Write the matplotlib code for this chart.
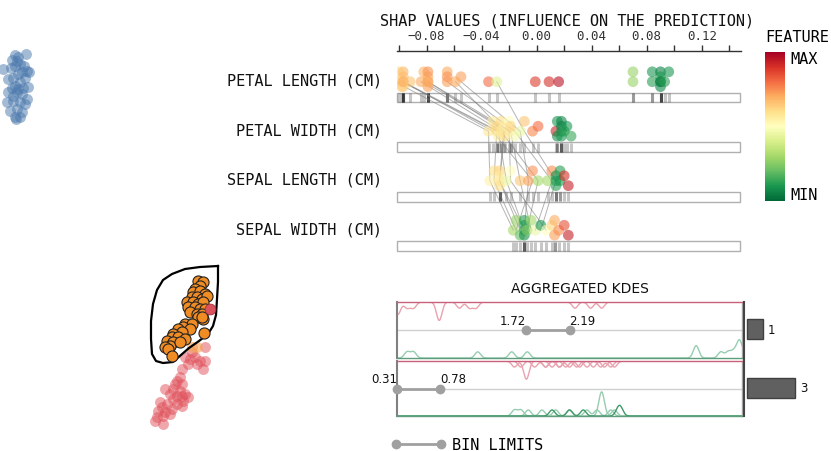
# SHAP explorer style figure: embedding + shap swarm rows + aggregated KDEs

import numpy as np
import matplotlib.pyplot as plt
from matplotlib.patches import Rectangle
from matplotlib.transforms import blended_transform_factory
from matplotlib.lines import Line2D
from matplotlib import cm, colors

W, H = 831, 452
MONO = "DejaVu Sans Mono"
plt.rcParams.update({"font.family": "DejaVu Sans", "axes.linewidth": 1.0})
cmap = plt.get_cmap("RdYlGn_r")

# ---------------- data ----------------
features = ["PETAL LENGTH (CM)", "PETAL WIDTH (CM)", "SEPAL LENGTH (CM)", "SEPAL WIDTH (CM)"]

shap_pl = [-0.103, -0.100, -0.098, -0.097, -0.097, -0.097, -0.097, -0.097, -0.092, -0.084,
           -0.082, -0.079, -0.079, -0.079, -0.079, -0.079, -0.065, -0.065, -0.065, -0.059,
           -0.055, -0.035, -0.029, -0.001, 0.009, 0.016, 0.070, 0.070, 0.084, 0.084,
           0.090, 0.090, 0.090, 0.090, 0.090, 0.093, 0.096]
val_pl = [0.62, 0.60, 0.64, 0.66, 0.66, 0.68, 0.64, 0.70, 0.66, 0.70,
          0.68, 0.72, 0.70, 0.72, 0.74, 0.70, 0.72, 0.70, 0.74, 0.70,
          0.72, 0.80, 0.42, 0.88, 0.90, 0.96, 0.28, 0.28, 0.12, 0.10,
          0.08, 0.05, 0.10, 0.06, 0.04, 0.12, 0.10]

shap_pw = [-0.035, -0.032, -0.029, -0.029, -0.028, -0.026, -0.026, -0.024, -0.023, -0.020,
           -0.019, -0.019, -0.016, -0.012, -0.009, -0.003, 0.001, 0.014, 0.015, 0.015,
           0.018, 0.018, 0.018, 0.018, 0.020, 0.022, 0.025]
val_pw = [0.58, 0.56, 0.60, 0.62, 0.55, 0.60, 0.58, 0.56, 0.60, 0.50,
          0.58, 0.62, 0.48, 0.45, 0.66, 0.76, 0.80, 0.92, 0.10, 0.08,
          0.05, 0.08, 0.10, 0.06, 0.12, 0.10, 0.14]

shap_sl = [-0.034, -0.031, -0.027, -0.027, -0.027, -0.027, -0.022, -0.019, -0.012, -0.006,
           -0.003, 0.001, 0.008, 0.011, 0.014, 0.014, 0.014, 0.017, 0.017, 0.020, 0.023]
val_sl = [0.55, 0.60, 0.58, 0.62, 0.56, 0.60, 0.45, 0.50, 0.65, 0.72,
          0.74, 0.30, 0.30, 0.75, 0.10, 0.08, 0.12, 0.12, 0.10, 0.90, 0.93]

shap_sw = [-0.017, -0.015, -0.012, -0.009, -0.009, -0.009, -0.009, -0.007, -0.004, -0.001,
           0.003, 0.007, 0.011, 0.013, 0.013, 0.016, 0.020, 0.023]
val_sw = [0.30, 0.28, 0.20, 0.10, 0.15, 0.12, 0.08, 0.25, 0.30, 0.45,
          0.10, 0.50, 0.62, 0.72, 0.70, 0.75, 0.85, 0.93]

# shap values of the lasso-selected instances, per feature row
sel_pl = [-0.103, -0.098, -0.097, -0.084, -0.079, -0.079, -0.065, -0.059, -0.055, -0.029, -0.097, -0.082]
sel_pw = [-0.035, -0.029, -0.028, -0.026, -0.023, -0.019, -0.016, -0.024, -0.012, -0.009, -0.032, -0.020]
sel_sl = [-0.034, -0.031, -0.022, 0.001, -0.027, -0.012, 0.011, -0.027, -0.006, 0.014, -0.003, -0.019]
sel_sw = [-0.017, -0.015, -0.009, -0.007, -0.012, -0.004, -0.001, -0.009, -0.009, 0.003, -0.015, 0.007]

shap_ticks = [-0.10, -0.08, -0.06, -0.04, -0.02, 0.00, 0.02, 0.04, 0.06, 0.08, 0.10, 0.12, 0.14]

# embedding (projection) points
blue_x = [26, 15, 18, 12, 17, 3, 11, 15, 20, 24, 27, 22, 29, 18, 8, 13, 25, 20, 15, 12,
          18, 23, 28, 8, 17, 22, 13, 27, 7, 13, 20, 25, 10, 17, 22, 15, 20, 16]
blue_y = [55, 56, 58, 61, 62, 70, 69, 67, 65, 67, 72, 73, 73, 75, 80, 79, 79, 83, 87, 89,
          90, 89, 88, 93, 93, 95, 97, 100, 103, 102, 103, 105, 112, 110, 113, 118, 118, 120]

orange_x = [198, 203, 200, 195, 193, 200, 205, 192, 197, 202, 207, 187, 193, 198, 203, 188,
            195, 200, 205, 190, 197, 202, 198, 203, 185, 192, 183, 190, 178, 182, 173, 172,
            178, 185, 167, 173, 170, 165, 168, 180, 204, 172, 202]
orange_y = [282, 283, 287, 290, 293, 292, 295, 298, 298, 300, 297, 303, 303, 305, 303, 308,
            308, 310, 310, 313, 315, 315, 318, 320, 325, 325, 328, 330, 330, 333, 335, 338,
            338, 340, 342, 343, 347, 348, 350, 343, 334, 357, 318]
sel_red_x = [210]
sel_red_y = [310]

red_x = [205, 192, 185, 190, 195, 200, 205, 188, 197, 203, 182, 180, 177, 175, 182, 165,
         173, 180, 185, 170, 177, 182, 188, 173, 183, 167, 177, 160, 162, 172, 182, 158,
         165, 157, 163, 170, 155, 163]
red_y = [348, 353, 358, 360, 358, 362, 362, 365, 365, 370, 370, 378, 382, 385, 385, 390,
         390, 392, 395, 395, 397, 397, 398, 400, 402, 405, 405, 403, 408, 410, 407, 412,
         413, 418, 417, 415, 422, 425]
pale_x = [192, 197]
pale_y = [348, 348]

lasso_x = [218, 200, 185, 172, 163, 157, 153, 151, 151, 152, 156, 163, 173, 181, 189, 199,
           208, 213, 216, 217, 218, 218]
lasso_y = [267, 268, 270, 275, 281, 291, 305, 322, 340, 355, 362, 364, 363, 356, 349, 342,
           335, 327, 316, 300, 283, 267]

# aggregated KDE panels (feature value samples per class)
bin_lo = [1.72, 0.31]
bin_hi = [2.19, 0.78]
bin_counts = [1, 3]
kde_red = [
    [[0.32, 0.32, 0.42, 0.49, 0.77, 0.77, 0.77, 0.99, 1.10, 1.17, 2.25, 2.42, 2.54]],
    [[1.59, 1.72, 1.72, 1.72, 1.93, 2.08, 2.30, 2.57],
     [1.81, 1.93, 2.08, 2.19, 2.38, 2.53, 2.64],
     [1.66, 2.00, 2.15, 2.27, 2.45, 2.68]],
]
kde_green = [
    [[0.42, 0.49, 1.19, 1.56, 1.73, 3.57, 3.57, 3.84, 3.92, 3.98, 4.03, 4.05, 4.05]],
    [[1.59, 1.66, 2.04, 2.54, 2.54, 2.54, 2.54, 2.68],
     [1.74, 1.89, 2.19, 2.38, 2.49, 2.64],
     [2.00, 2.19, 2.34, 2.72, 2.75]],
]

# ---------------- figure ----------------
fig = plt.figure(figsize=(W / 100, H / 100), dpi=100)


def px_axes(x0, y0, x1, y1):
    return fig.add_axes([x0 / W, 1 - y1 / H, (x1 - x0) / W, (y1 - y0) / H])


# embedding scatter
axe = px_axes(0, 0, 240, 452)
axe.set_xlim(0, 240)
axe.set_ylim(452, 0)
axe.axis("off")
axe.scatter(blue_x, blue_y, s=62, color="#4a78ad", alpha=0.5, linewidths=0)
axe.scatter(red_x, red_y, s=62, color="#e0505a", alpha=0.5, linewidths=0)
axe.scatter(pale_x, pale_y, s=62, color="#f5a050", alpha=0.6, linewidths=0)
axe.plot(lasso_x, lasso_y, color="black", lw=1.6, solid_joinstyle="round")
axe.scatter(orange_x, orange_y, s=64, color="#f08c24", edgecolor="#222222", linewidths=0.8, zorder=4)
axe.scatter(sel_red_x, sel_red_y, s=60, color="#d9525e", edgecolor="#a03040", linewidths=0.6, zorder=4)

# shap rows
XL = (-0.1015, 0.1485)
YL = (3.48, -0.62)
ax = px_axes(397, 52, 741, 255)
ax.set_xlim(*XL)
ax.set_ylim(*YL)
px_x = 344 / (XL[1] - XL[0])
px_y = 203 / (YL[0] - YL[1])

for s in ["left", "right", "bottom"]:
    ax.spines[s].set_visible(False)
ax.spines["top"].set_color("#333333")
ax.xaxis.tick_top()
ax.set_yticks([])
ax.set_xticks(shap_ticks)
labels = []
for t in shap_ticks:
    if abs(t / 0.04 - round(t / 0.04)) < 1e-6:
        labels.append(f"{t:.2f}".replace("-0.00", "0.00").replace("-", "\u2212"))
    else:
        labels.append("")
ax.set_xticklabels(labels, fontfamily=MONO, fontsize=9)
ax.tick_params(axis="x", direction="out", length=4, width=1, pad=2.5, colors="#333333")


def swarm_offsets(xs, step=0.1, min_dist=7.0):
    xs = np.asarray(xs)
    offs = np.zeros(len(xs))
    placed = []
    for i in np.argsort(xs, kind="stable"):
        best, best_d = 0.0, -1.0
        for o in (0.0, -step, step, -2 * step):
            d = min((np.hypot((xs[i] - xs[j]) * px_x, (o - offs[j]) * px_y) for j in placed), default=99)
            if d >= min_dist:
                best = o
                break
            if d > best_d:
                best, best_d = o, d
        offs[i] = best
        placed.append(i)
    return offs


rows_shap = [shap_pl, shap_pw, shap_sl, shap_sw]
rows_val = [val_pl, val_pw, val_sl, val_sw]
lab_tr = blended_transform_factory(ax.transAxes, ax.transData)

for r, (sv, fv) in enumerate(zip(rows_shap, rows_val)):
    ax.add_patch(Rectangle((XL[0], r + 0.22), XL[1] - XL[0] - 0.0005, 0.2, facecolor="white",
                           edgecolor="#b0b0b0", lw=1, zorder=1, clip_on=False))
    ax.vlines(sv, r + 0.23, r + 0.41, color="black", alpha=0.22, lw=2.2, zorder=2)
    offs = swarm_offsets(sv)
    ax.scatter(sv, r + offs, s=60, c=cmap(np.asarray(fv)), alpha=0.6, linewidths=0, zorder=5)
    ax.text(-0.044, r - 0.03, features[r], transform=lab_tr, ha="right", va="center",
            fontfamily=MONO, fontsize=11, color="#111111")

sel_rows = [sel_pl, sel_pw, sel_sl, sel_sw]
for k in range(len(sel_pl)):
    ax.plot([row[k] for row in sel_rows], range(4), color="#777777", alpha=0.55, lw=0.7, zorder=3)

fig.text(567 / W, 1 - 21 / H, "SHAP VALUES (INFLUENCE ON THE PREDICTION)", ha="center",
         va="center", fontfamily=MONO, fontsize=11, color="#111111")

# colorbar
cax = px_axes(765, 53, 785, 202)
cb = fig.colorbar(cm.ScalarMappable(norm=colors.Normalize(0, 1), cmap=cmap), cax=cax)
cb.set_ticks([])
cb.outline.set_visible(False)
fig.text(765 / W, 1 - 38 / H, "FEATURE", ha="left", va="center", fontfamily=MONO, fontsize=11)
fig.text(790 / W, 1 - 60 / H, "MAX", ha="left", va="center", fontfamily=MONO, fontsize=11)
fig.text(790 / W, 1 - 196 / H, "MIN", ha="left", va="center", fontfamily=MONO, fontsize=11)

# aggregated KDE panels
grid = np.linspace(0.31, 4.07, 900)
BW = 0.03


def kde(samples):
    s = np.asarray(samples)[:, None]
    return np.exp(-0.5 * ((grid[None, :] - s) / BW) ** 2).sum(axis=0)


panel_px = [(303, 359), (362, 417)]
green_cols = ["#96cdb0", "#96cdb0", "#3f9a6a"]
for i, (y0, y1) in enumerate(panel_px):
    axk = px_axes(397, y0, 742, y1)
    axk.set_xlim(0.31, 4.07)
    axk.set_ylim(-1, 1)
    axk.set_xticks([])
    axk.set_yticks([])
    axk.spines["left"].set_color("#808080")
    axk.spines["left"].set_linewidth(1.5)
    axk.spines["right"].set_color("#a8a8a8")
    axk.spines["top"].set_color("#c8607a")
    axk.spines["bottom"].set_color("#5e9c7c")
    axk.axhline(0, color="#d0d0d0", lw=1)
    for c in kde_red[i]:
        axk.plot(grid, 1 - 0.22 * kde(c), color="#eaa2ae", lw=1)
    for j, c in enumerate(kde_green[i]):
        axk.plot(grid, -1 + 0.22 * kde(c), color=green_cols[j], lw=1)
    axk.plot([bin_lo[i], bin_hi[i]], [0, 0], color="#a0a0a0", lw=2, marker="o", ms=6,
             clip_on=False, zorder=5)
    axk.annotate(f"{bin_lo[i]:.2f}", (bin_lo[i], 0), xytext=(0, 7), textcoords="offset points",
                 ha="right", va="center", fontsize=8.5, color="#111111", annotation_clip=False)
    axk.annotate(f"{bin_hi[i]:.2f}", (bin_hi[i], 0), xytext=(0, 7), textcoords="offset points",
                 ha="left", va="center", fontsize=8.5, color="#111111", annotation_clip=False)

fig.text(580 / W, 1 - 289 / H, "AGGREGATED KDES", ha="center", va="center", fontsize=10,
         color="#111111")

# bin counts
axb = px_axes(744, 303, 831, 417)
axb.set_xlim(-0.19, 5.25)
axb.set_ylim(1.475, -0.458)
axb.barh(range(len(bin_counts)), bin_counts, height=0.34, color="#606060", edgecolor="#404040", lw=1)
for i, n in enumerate(bin_counts):
    axb.text(n + 0.3, i, str(n), ha="left", va="center", fontsize=8.5, color="#111111")
for s in ["top", "right", "bottom"]:
    axb.spines[s].set_visible(False)
axb.spines["left"].set_color("#444444")
axb.spines["left"].set_linewidth(1.5)
axb.set_xticks([])
axb.set_yticks([])

# legend
h = Line2D([], [], color="#a0a0a0", lw=2, marker="o", ms=6)
fig.legend(handles=[h], labels=["BIN LIMITS"], loc="center left",
           bbox_to_anchor=(391 / W, 1 - 446 / H), frameon=False, numpoints=2,
           handlelength=3.6, handletextpad=0.4, borderpad=0, borderaxespad=0,
           prop={"family": MONO, "size": 11})

fig.savefig("out.png", dpi=100)
